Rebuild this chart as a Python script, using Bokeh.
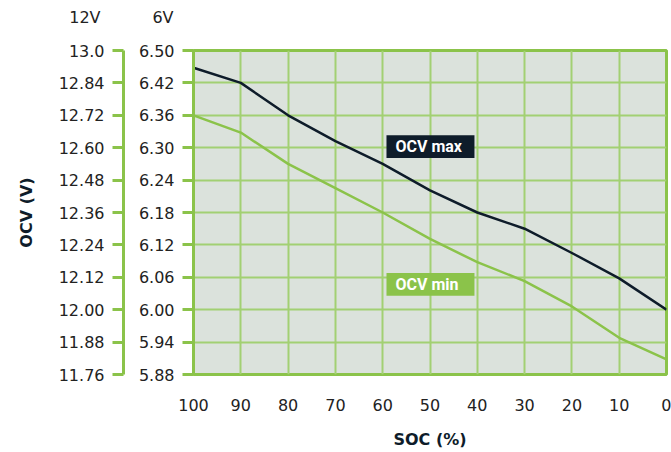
from bokeh.plotting import figure
from bokeh.models import (Range1d, LinearAxis, FixedTicker, Label, BoxAnnotation)
from bokeh.embed import file_html
from bokeh.resources import INLINE

# ---- data ----
soc = [100, 90, 80, 70, 60, 50, 40, 30, 20, 10, 0]
ocv_max_6v = [6.448, 6.420, 6.360, 6.312, 6.270, 6.221, 6.180, 6.150, 6.105, 6.058, 6.000]
ocv_min_6v = [6.360, 6.328, 6.270, 6.225, 6.180, 6.131, 6.088, 6.053, 6.006, 5.948, 5.908]

ticks_6v = [5.88, 5.94, 6.0, 6.06, 6.12, 6.18, 6.24, 6.3, 6.36, 6.42, 6.48]
labels_6v = ["5.88", "5.94", "6.00", "6.06", "6.12", "6.18", "6.24", "6.30", "6.36", "6.42", "6.50"]
ticks_12v = [11.76, 11.88, 12.0, 12.12, 12.24, 12.36, 12.48, 12.6, 12.72, 12.84, 12.96]
labels_12v = ["11.76", "11.88", "12.00", "12.12", "12.24", "12.36", "12.48", "12.60", "12.72", "12.84", "13.0"]

series_names = ["OCV max", "OCV min"]
header_12v = "12V"
header_6v = "6V"
x_title = "SOC (%)"
y_title = "OCV (V)"

# ---- style ----
GREEN = "#8bc34a"
GRID = "#a2d073"
DARK = "#0e1c2a"
BG = "#dbe2dc"
TXT = "#222222"
FONT = "DejaVu Sans"
TAGFONT = "Roboto"

p = figure(width=671, height=452, output_backend="svg", toolbar_location=None,
           x_range=Range1d(100, 0), y_range=Range1d(ticks_6v[0], ticks_6v[-1]),
           min_border_left=193, min_border_right=5, min_border_top=50,
           min_border_bottom=78)
p.extra_y_ranges = {"v12": Range1d(ticks_12v[0], ticks_12v[-1])}

p.background_fill_color = BG
p.border_fill_color = "white"
p.outline_line_color = GREEN
p.outline_line_width = 3

# grid
p.xgrid.ticker = FixedTicker(ticks=soc)
p.ygrid.ticker = FixedTicker(ticks=ticks_6v)
p.grid.grid_line_color = GRID
p.grid.grid_line_width = 2

# x axis
xa = p.xaxis[0]
xa.ticker = FixedTicker(ticks=soc)
xa.axis_line_color = None
xa.major_tick_out = 0
xa.major_tick_in = 0
xa.minor_tick_line_color = None
xa.major_label_standoff = 24
xa.major_label_text_font = FONT
xa.major_label_text_font_size = "16px"
xa.major_label_text_color = TXT
xa.axis_label = x_title
xa.axis_label_standoff = 16
xa.axis_label_text_font = FONT
xa.axis_label_text_font_size = "16px"
xa.axis_label_text_font_style = "bold"
xa.axis_label_text_color = DARK

# inner (6V) axis
ya = p.yaxis[0]
ya.ticker = FixedTicker(ticks=ticks_6v)
ya.major_label_overrides = dict(zip(ticks_6v, labels_6v))
ya.axis_line_color = GREEN
ya.axis_line_width = 3
ya.major_tick_line_color = GREEN
ya.major_tick_line_width = 3
ya.major_tick_out = 11
ya.major_tick_in = 0
ya.minor_tick_line_color = None
ya.major_label_standoff = 8
ya.major_label_text_font = FONT
ya.major_label_text_font_size = "16px"
ya.major_label_text_color = TXT
ya.axis_label = " "
ya.axis_label_text_font_size = "1px"
ya.axis_label_standoff = 8

# outer (12V) axis
y2 = LinearAxis(y_range_name="v12")
y2.ticker = FixedTicker(ticks=ticks_12v)
y2.major_label_overrides = dict(zip(ticks_12v, labels_12v))
y2.axis_line_color = GREEN
y2.axis_line_width = 3
y2.major_tick_line_color = GREEN
y2.major_tick_line_width = 3
y2.major_tick_out = 11
y2.major_tick_in = 0
y2.minor_tick_line_color = None
y2.major_label_standoff = 8
y2.major_label_text_font = FONT
y2.major_label_text_font_size = "16px"
y2.major_label_text_color = TXT
y2.axis_label = y_title
y2.axis_label_standoff = 20
y2.axis_label_text_font = FONT
y2.axis_label_text_font_size = "16px"
y2.axis_label_text_font_style = "bold"
y2.axis_label_text_color = DARK
p.add_layout(y2, "left")

# lines
p.line(soc, ocv_min_6v, line_color=GREEN, line_width=2.5)
p.line(soc, ocv_max_6v, line_color=DARK, line_width=2.5)

# headers (placed in the top panel so they are not clipped by the frame)
for txt, xo in [(header_6v, -20), (header_12v, -93)]:
    p.add_layout(Label(x=soc[0], y=ticks_6v[-1], text=txt, x_offset=xo, y_offset=33,
                       text_align="right", text_baseline="middle",
                       text_font=FONT, text_font_size="16px", text_color=TXT), "above")

# series tags
p.add_layout(BoxAnnotation(left=59.2, right=40.6, top=6.323, bottom=6.281,
                           fill_color=DARK, fill_alpha=1, line_color=None))
p.add_layout(BoxAnnotation(left=59.2, right=40.6, top=6.068, bottom=6.026,
                           fill_color=GREEN, fill_alpha=1, line_color=None))
p.add_layout(Label(x=57.3, y=6.302, text=series_names[0], text_align="left",
                   text_baseline="middle", text_font=TAGFONT, text_font_size="16px",
                   text_font_style="bold", text_color="white"))
p.add_layout(Label(x=57.3, y=6.047, text=series_names[1], text_align="left",
                   text_baseline="middle", text_font=TAGFONT, text_font_size="16px",
                   text_font_style="bold", text_color="white"))

open("out.html", "w").write(file_html(p, INLINE))
